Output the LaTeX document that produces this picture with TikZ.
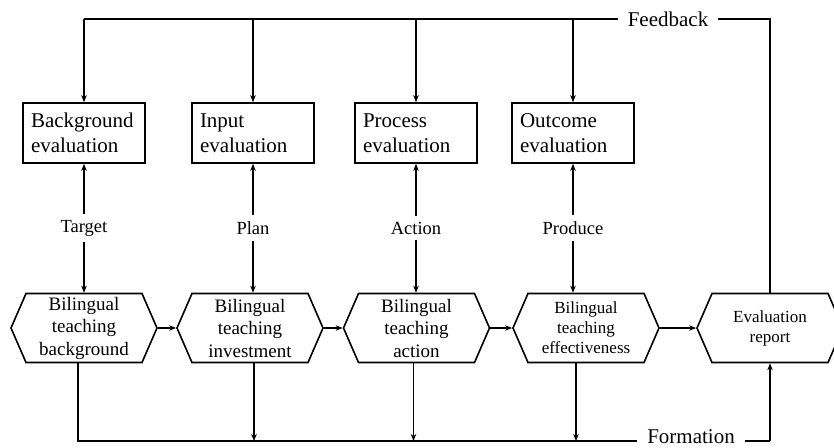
\documentclass[tikz,border=0pt]{standalone}
\usepackage{fontspec}
\setmainfont{Liberation Serif}
\usetikzlibrary{shapes.symbols}
\usetikzlibrary{arrows.meta}
\tikzset{
    evalbox/.style={draw, line width=1.6pt, minimum width=122pt, minimum height=60pt,
        text width=106pt, inner sep=8pt, align=left, font=\fontsize{21}{25}\selectfont},
    stagehex/.style={draw, line width=1.6pt, shape=signal, signal to=east and west,
        signal pointer angle=133, minimum width=146pt, minimum height=69pt,
        inner sep=2pt, align=center, font=\fontsize{19}{22.5}\selectfont},
    smallhex/.style={stagehex, font=\fontsize{17}{20}\selectfont},
    flowlabel/.style={font=\fontsize{18.5}{22}\selectfont, inner sep=6pt},
    sidelabel/.style={font=\fontsize{21}{25}\selectfont, inner sep=10pt},
    flow/.style={line width=1.6pt, -{Stealth[length=7pt,width=5.5pt]}},
    wire/.style={line width=1.6pt}
}

\begin{document}
\begin{tikzpicture}[x=1pt, y=-1pt]
    \useasboundingbox (0,0) rectangle (834,447);

    % evaluation boxes
    \node [evalbox] (bgeval) at (84,133) {Background\\evaluation};
    \node [evalbox] (ineval) at (253,133) {Input\\evaluation};
    \node [evalbox] (preval) at (416,133) {Process\\evaluation};
    \node [evalbox] (oueval) at (573,133) {Outcome\\evaluation};

    % stages
    \node [stagehex] (bghex) at (84,328) {Bilingual\\teaching\\background};
    \node [stagehex] (inhex) at (250,328) {Bilingual\\teaching\\investment};
    \node [stagehex] (prhex) at (416.5,328) {Bilingual\\teaching\\action};
    \node [smallhex] (ouhex) at (586,328) {Bilingual\\teaching\\effectiveness};
    \node [smallhex] (report) at (770,328) {Evaluation\\report};

    % labels between
    \node [flowlabel] (target) at (bgeval.south |- 0,228) {Target};
    \node [flowlabel] (plan) at (ineval.south |- 0,228) {Plan};
    \node [flowlabel] (action) at (preval.south |- 0,228) {Action};
    \node [flowlabel] (produce) at (oueval.south |- 0,228) {Produce};

    \foreach \lab/\ebox/\hex in {target/bgeval/bghex, plan/ineval/inhex,
                               action/preval/prhex, produce/oueval/ouhex} {
        \draw [flow] (\lab) -- (\ebox.south);
        \draw [flow] (\lab) -- (\lab |- \hex.north);
    }

    \draw [flow] (bghex.east) -- (inhex.west);
    \draw [flow] (inhex.east) -- (prhex.west);
    \draw [flow] (prhex.east) -- (ouhex.west);
    \draw [flow] (ouhex.east) -- (report.west);

    %%%%%% feedback
    \node [sidelabel] (feedback) at (668,19) {Feedback};
    \coordinate (fbcorner) at (report.north |- feedback);
    \draw [wire] (bgeval.north |- feedback) -- (feedback.west);
    \draw [wire] (feedback.east) -- (fbcorner) -- (report.north);
    \foreach \ebox in {bgeval, ineval, preval, oueval} {
        \draw [flow] (\ebox.north |- feedback) -- (\ebox.north);
    }

    %%%%%% formation
    \node [sidelabel] (formation) at (691,437) {Formation};
    \coordinate (fmline) at (0,441);
    \coordinate (fmcorner) at (report.south |- fmline);
    \draw [wire] (bghex.south) ++(-6,0) |- (formation.west |- fmline);
    \draw [wire] (formation.east |- fmline) -- (fmcorner);
    \draw [flow] (fmcorner) -- (report.south);
    \foreach \hex/\dx in {inhex/4, prhex/-3, ouhex/-10} {
        \draw [flow] ([xshift=\dx pt]\hex.south) -- ([xshift=\dx pt]\hex.south |- fmline);
    }
\end{tikzpicture}
\end{document}
